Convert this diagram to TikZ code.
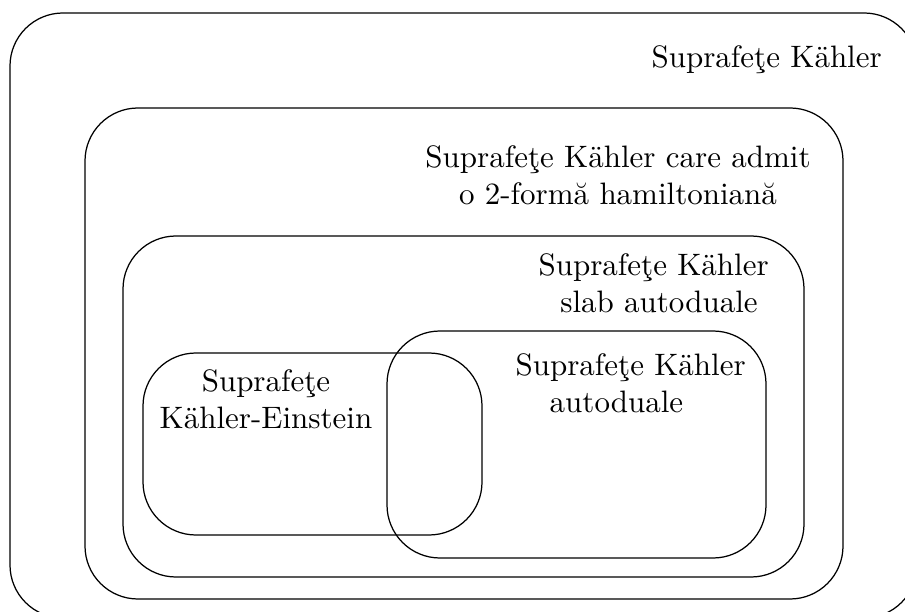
\documentclass[tikz,border=0pt]{standalone}
\usepackage{fontspec}
\begin{document}
\begin{tikzpicture}[x=0.3226pt,y=-0.3226pt,
  setbox/.style={draw=black,line width=0.4pt,rounded corners=17.1pt},
  lbl/.style={inner sep=0pt,font=\fontsize{10pt}{12pt}\selectfont}]
\useasboundingbox (0,0) rectangle (905,612);
\clip (0,0) rectangle (905,612);
% boxes
\draw[setbox] (10,13) rectangle (917,618);
\draw[setbox] (85,108) rectangle (843,599);
\draw[setbox] (123,236) rectangle (804,577);
\draw[setbox] (143,353) rectangle (482,535);
\draw[setbox] (387,331) rectangle (766,558);
% labels
\node[lbl,anchor=base west] (t1) at (651,68) {Suprafeţe Kähler};
\node[lbl,anchor=north,align=center] (t2) at (618,145) {Suprafeţe Kähler care admit\\o 2-formă hamiltoniană};
\node[lbl,anchor=north west,align=left] (t3) at (538,253) {Suprafeţe Kähler\\\hspace*{7pt}slab autoduale};
\node[lbl,anchor=north west,align=left] (t4) at (515,353) {Suprafeţe Kähler\\\hspace*{11pt}autoduale};
\node[lbl,anchor=north,align=center] (t5) at (266,369) {Suprafeţe\\Kähler-Einstein};
\end{tikzpicture}
\end{document}
